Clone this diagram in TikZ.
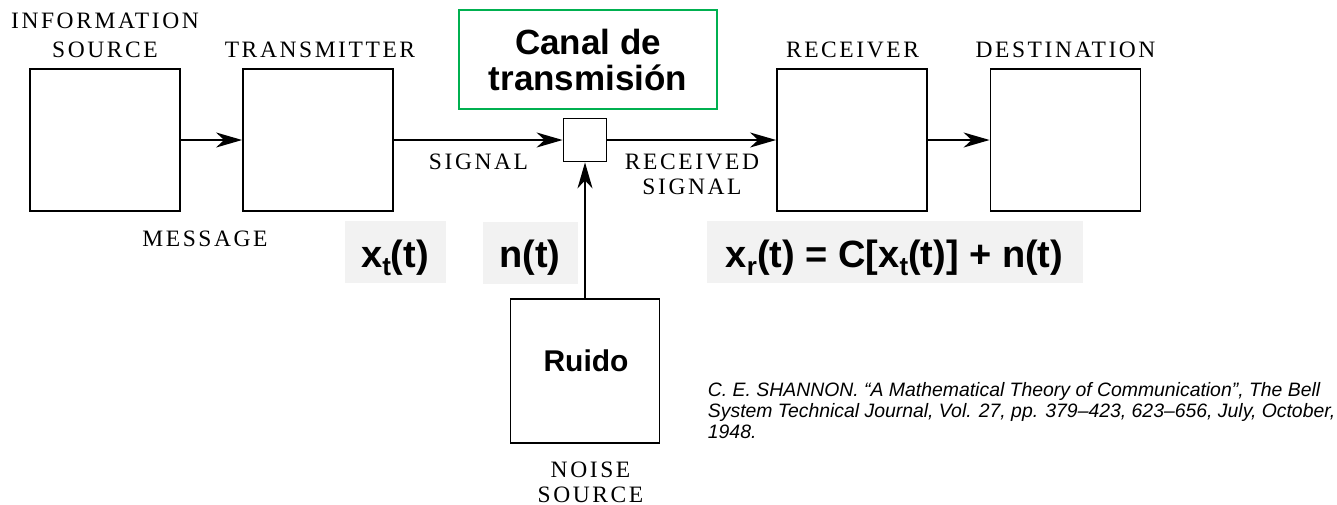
\documentclass[tikz,border=0pt]{standalone}
\usepackage{fontspec}
\setmainfont{Liberation Serif}
\setsansfont{Liberation Sans}
\newfontfamily\capsfont{Liberation Serif}[LetterSpace=11]
\usetikzlibrary{arrows.meta}
\definecolor{chgreen}{HTML}{00B050}
\definecolor{eqgray}{HTML}{F2F2F2}
\newcommand{\capslbl}{\capsfont\fontsize{23.5}{27}\selectfont}
\newcommand{\boldsf}[1]{\sffamily\bfseries\fontsize{#1}{#1}\selectfont}
\newcommand{\lowidx}[1]{\raisebox{-8pt}{\fontsize{26}{26}\selectfont #1}}
\tikzset{
  blk/.style={draw,minimum width=150pt,minimum height=142pt,inner sep=0pt},
  lbl/.style={anchor=base,align=center,inner sep=0pt,font=\capslbl},
  eqbg/.style={fill=eqgray,minimum height=62pt,inner sep=0pt},
  eqtxt/.style={anchor=base,inner sep=0pt,font=\boldsf{38}},
}
\begin{document}
\begin{tikzpicture}[x=1pt,y=-1pt,line width=1.8pt,
  >={Stealth[length=26pt,width=15pt,inset=8pt]}]
\useasboundingbox (0,0) rectangle (1337,504);
% blocks
\node[blk] (src) at (105,140) {};
\node[blk] (tx) at (318,140) {};
\node[blk] (rx) at (852,140) {};
\node[blk] (dst) at (1065.5,140) {};
\node[draw,minimum size=43pt,inner sep=0pt] (ch) at (585,140) {};
\node[blk,minimum width=149pt,minimum height=144pt] (noise) at (585,371) {};
\node[font=\boldsf{30}] (ruido) at (586,361) {Ruido};
\node[draw=chgreen,line width=1.5pt,minimum width=258pt,minimum height=99pt,
  align=center,font=\boldsf{35}] (canal) at (588,59.5) {Canal de\\[1pt]transmisión};
% connectors
\draw[->] (src) -- (tx);
\draw[->] (tx) -- (ch);
\draw[->] (ch) -- (rx);
\draw[->] (rx) -- (dst);
\draw[->] (noise) -- (ch);
% labels (base = last line)
\node[lbl] (srclbl) at (105,57) {INFORMATION\\[1.5pt]SOURCE};
\node[lbl] (txlbl) at (320,57) {TRANSMITTER};
\node[lbl] (rxlbl) at (852.5,57) {RECEIVER};
\node[lbl] (dstlbl) at (1065.5,57) {DESTINATION};
\node[lbl] (msg) at (205,246) {MESSAGE};
\node[lbl] (sig) at (478.5,169) {SIGNAL};
\node[lbl] (rsig) at (692,194) {RECEIVED\\[-2pt]SIGNAL};
\node[lbl] (nslbl) at (590.5,502) {NOISE\\[-2pt]SOURCE};
% signals
\node[eqbg,minimum width=101pt] (xtbg) at (395.5,252) {};
\node[eqtxt] (xt) at (395,267) {x\lowidx{t}(t)};
\node[eqbg,minimum width=95pt] (nbg) at (530.5,253) {};
\node[eqtxt] (nt) at (530,267) {n(t)};
\node[eqbg,minimum width=376pt] (xrbg) at (895,252) {};
\node[eqtxt] (xr) at (894.5,267) {x\lowidx{r}(t) = C[x\lowidx{t}(t)] + n(t)};
% reference
\node[anchor=base west,align=left,inner sep=0pt,
  font=\sffamily\itshape\fontsize{19.4}{21}\selectfont] (ref) at (707,438)
  {C. E. SHANNON. “A Mathematical Theory of Communication”, The Bell\\
   System Technical Journal, Vol. 27, pp. 379–423, 623–656, July, October,\\
   1948.};
\end{tikzpicture}
\end{document}
